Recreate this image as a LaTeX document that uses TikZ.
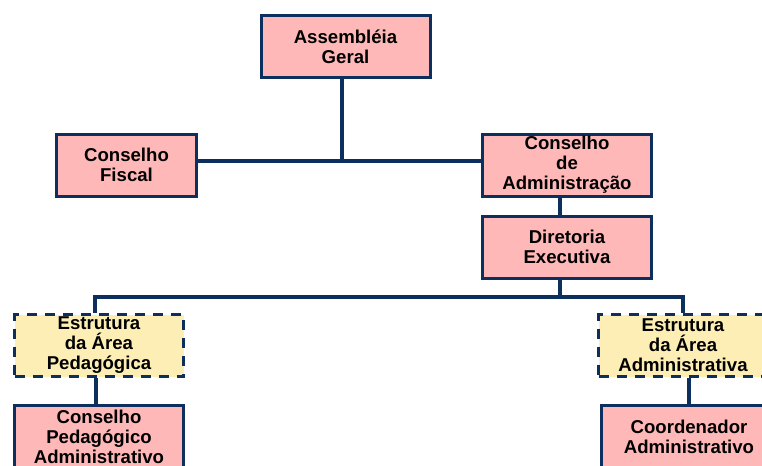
\documentclass[tikz,border=0pt]{standalone}
\usepackage{fontspec}
\setmainfont{Liberation Sans}
\usepackage{tikz}
\usetikzlibrary{positioning}
\definecolor{orgnavy}{HTML}{0C2F5E}
\definecolor{orgpink}{HTML}{FFB8B8}
\definecolor{orgsand}{HTML}{FCEEB5}

\begin{document}
\begin{tikzpicture}[x=0.5pt,y=-0.5pt,
  unit/.style={draw=orgnavy,line width=1.5pt,fill=orgpink,minimum width=84.5pt,minimum height=31pt,inner sep=1pt,align=center,font=\fontsize{9.3}{10}\selectfont\bfseries},
  area/.style={unit,fill=orgsand,dash pattern=on 5pt off 4pt},
  link/.style={draw=orgnavy,line width=2pt}
]
\useasboundingbox (0,0) rectangle (762,466);
\clip (0,0) rectangle (762,466);

\node[unit] (ag) at (345.5,46.5) {Assembléia\\Geral};
\node[unit,minimum width=70pt] (cf) at (126.5,165) {Conselho\\Fiscal};
\node[unit] (ca) at (567,165) {Conselho\\de\\Administração};
\node[unit,below=8.5pt of ca] (de) {Diretoria\\Executiva};
\node[area] (ep) at (99,345.5) {Estrutura\\da Área\\Pedagógica};
\node[area] (ea) at (683,345.5) {Estrutura\\da Área\\Administrativa};
\node[unit,below=13pt of ep] (cp) {Conselho\\Pedagógico\\Administrativo};
\node[unit,below=13pt of ea,xshift=3pt,minimum width=87.5pt] (co) {Coordenador\\Administrativo};

% junctions
\coordinate (j1) at (342,161);
\coordinate (j2) at (560,297);

\draw[link] (cf.east |- j1) -- (ca.west |- j1);
\draw[link] (ag.south -| j1) -- (j1);
\draw[link] (ca.south -| j2) -- (de.north -| j2);
\draw[link] (de.south -| j2) -- (j2);
\draw[link] ([xshift=-2pt]ep.north) |- (j2) -| (ea.north);
\draw[link] ([xshift=-1.5pt]ep.south) -- ([xshift=-1.5pt]cp.north);
\draw[link] (ea.south -| co.north) -- (co.north);
\end{tikzpicture}
\end{document}
